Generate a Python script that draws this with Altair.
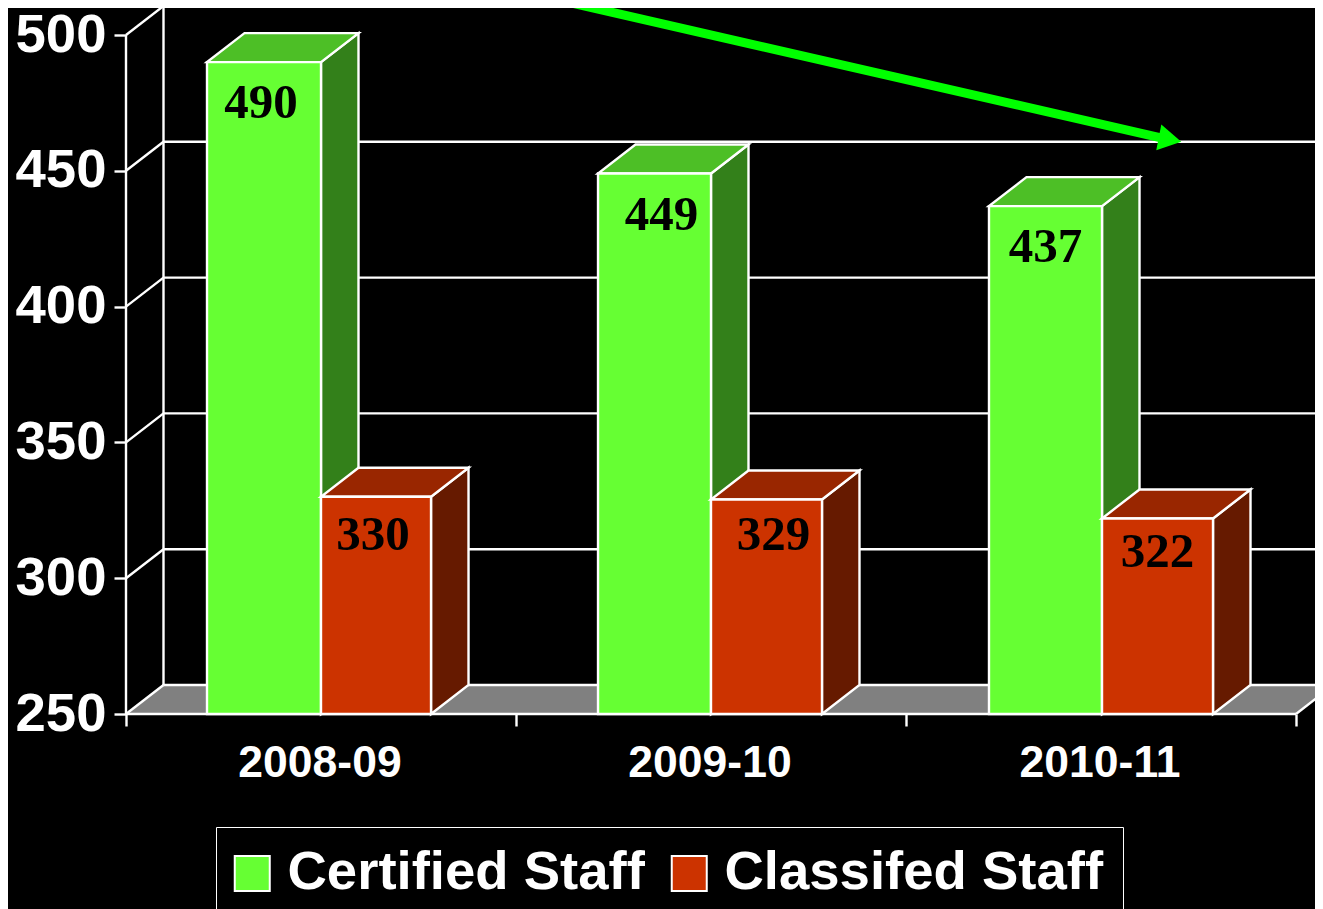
import altair as alt
import pandas as pd

years = ["2008-09", "2009-10", "2010-11"]
certified = [490, 449, 437]
classified = [330, 329, 322]
y_ticks = [250, 300, 350, 400, 450, 500]
x_ticks = [0, 1, 2, 3]
series_names = ["Certified Staff", "Classifed Staff"]
arrow_x = [1.108, 2.651]
arrow_y = [512.9, 462.2]
head_x = [2.677]
head_y = [461.5]
cert_left = [0.2077, 1.2103, 2.2128]
cert_right = [0.5, 1.5, 2.5026]
class_right = [0.7821, 1.7846, 2.7872]
label_shift_x = [[-3, 7, 0], [-3, 7, 0]]
label_shift_y = [[41, 41, 41], [38, 36, 34]]

PX_X = 390
PX_Y = 2.716
PLOT_W = 1189
PLOT_H = 706
DX = 37.5 / PX_X
DY = 29 / PX_Y
BASE = 250
XMAX = PLOT_W / PX_X
YMAX = 250 + PLOT_H / PX_Y
WHITE = "#ffffff"
LW = 2.4
x_scale = alt.Scale(domain=[0, XMAX], nice=False, zero=False)
y_scale = alt.Scale(domain=[BASE, YMAX], nice=False, zero=False)

x_axis = alt.Axis(
    values=x_ticks, grid=False, domain=False, ticks=True, tickColor=WHITE,
    tickWidth=LW, tickSize=12, labelColor=WHITE, labelFont="Liberation Sans",
    labelFontWeight="bold", labelFontSize=44.5, labelOffset=193.5, labelPadding=15,
    labelBaseline="top", labelFlush=False, labelOverlap=False,
    labelExpr="[" + ",".join(repr(y) for y in years) + ",''][datum.value]")
y_axis = alt.Axis(
    values=y_ticks, grid=False, domain=False, ticks=True, tickColor=WHITE,
    tickWidth=LW, tickSize=12, labelColor=WHITE, labelFont="Liberation Sans",
    labelFontWeight="bold", labelFontSize=54.5, labelPadding=8, labelOverlap=False)


def X(field="x"):
    return alt.X(f"{field}:Q", scale=x_scale, axis=x_axis, title=None)


def Y(field="y"):
    return alt.Y(f"{field}:Q", scale=y_scale, axis=y_axis, title=None)


X2 = alt.X2("x2:Q")
Y2 = alt.Y2("y2:Q")

# ---- tables -------------------------------------------------------------
floor_df = pd.DataFrame([
    {"y": BASE, "x": 0, "x2": 3},
    {"y": BASE + DY, "x": DX, "x2": 3 + DX},
])
grid_df = pd.DataFrame([{"y": v + DY, "x": DX, "x2": XMAX} for v in y_ticks])
diag_df = pd.DataFrame([{"x": 0, "x2": DX, "y": v, "y2": v + DY} for v in y_ticks])
wall_df = pd.DataFrame([
    {"x": 0, "x2": 0, "y": 250, "y2": 500},
    {"x": DX, "x2": DX, "y": 250 + DY, "y2": 500 + DY},
    {"x": 3, "x2": 3 + DX, "y": 250, "y2": 250 + DY},
])

bars = []
for i in range(3):
    bars.append(dict(s=0, i=i, l=cert_left[i], r=cert_right[i], v=certified[i]))
    bars.append(dict(s=1, i=i, l=cert_right[i], r=class_right[i], v=classified[i]))

side_rows, top_rows, front_rows, text_rows = [], [], [], []
for b in bars:
    k = f"{b['s']}-{b['i']}"
    side_rows += [
        dict(k=k, s=b["s"], x=b["r"], y=b["v"], y2=BASE),
        dict(k=k, s=b["s"], x=b["r"] + DX, y=b["v"] + DY, y2=BASE + DY),
    ]
    top_rows += [
        dict(k=k, s=b["s"], y=b["v"], x=b["l"], x2=b["r"]),
        dict(k=k, s=b["s"], y=b["v"] + DY, x=b["l"] + DX, x2=b["r"] + DX),
    ]
    front_rows.append(dict(k=k, name=series_names[b["s"]], s=b["s"],
                           x=b["l"], x2=b["r"], y=b["v"], y2=BASE))
    text_rows.append(dict(
        x=(b["l"] + b["r"]) / 2 + label_shift_x[b["s"]][b["i"]] / PX_X,
        y=b["v"] - label_shift_y[b["s"]][b["i"]] / PX_Y,
        t=str(b["v"])))
side_df, top_df, front_df, text_df = map(pd.DataFrame, (side_rows, top_rows, front_rows, text_rows))

# ---- layers -------------------------------------------------------------
floor_l = alt.Chart(floor_df).mark_area(orient="horizontal", fill="#808080").encode(x=X(), x2=X2, y=Y())
grid_l = alt.Chart(grid_df).mark_rule(color=WHITE, strokeWidth=LW).encode(x=X(), x2=X2, y=Y())
diag_l = alt.Chart(diag_df).mark_rule(color=WHITE, strokeWidth=LW).encode(x=X(), x2=X2, y=Y(), y2=Y2)
wall_l = alt.Chart(wall_df).mark_rule(color=WHITE, strokeWidth=LW).encode(x=X(), x2=X2, y=Y(), y2=Y2)
front_base = alt.Chart(pd.DataFrame({"x": [0], "x2": [3], "y": [250]})).mark_rule(
    color=WHITE, strokeWidth=LW).encode(x=X(), x2=X2, y=Y())

layers = [floor_l, grid_l, diag_l, wall_l, front_base]
for s, (side_c, top_c) in enumerate([("#33801a", "#4dbf26"), ("#661a00", "#992600")]):
    layers.append(alt.Chart(side_df[side_df.s == s]).mark_area(
        fill=side_c, stroke=WHITE, strokeWidth=LW).encode(x=X(), y=Y(), y2=Y2, detail="k:N"))
    layers.append(alt.Chart(top_df[top_df.s == s]).mark_area(
        orient="horizontal", fill=top_c, stroke=WHITE, strokeWidth=LW).encode(x=X(), x2=X2, y=Y(), detail="k:N"))
    layers.append(alt.Chart(front_df[front_df.s == s]).mark_rect(
        stroke=WHITE, strokeWidth=LW).encode(
        x=X(), x2=X2, y=Y(), y2=Y2,
        color=alt.Color("name:N", scale=alt.Scale(domain=series_names, range=["#66ff33", "#cc3300"]),
                        legend=alt.Legend(
                            orient="none", legendX=90, legendY=819, direction="horizontal", columns=2,
                            title=None, padding=19, strokeColor=WHITE, fillColor="#000000",
                            symbolType="square", symbolSize=1225, symbolStrokeColor=WHITE,
                            symbolStrokeWidth=2, symbolOpacity=1, symbolOffset=-10, labelColor=WHITE,
                            labelFont="Liberation Sans", labelFontWeight="bold", labelFontSize=54.5,
                            labelLimit=600, labelOffset=8, columnPadding=22))))

text_l = alt.Chart(text_df).mark_text(
    font="Liberation Serif", fontWeight="bold", fontSize=49, color="#000000", baseline="middle"
).encode(x=X(), y=Y(), text="t:N")
layers.append(text_l)

arrow_df = pd.DataFrame({"x": arrow_x, "y": arrow_y})
head_df = pd.DataFrame({"x": head_x, "y": head_y})
layers.append(alt.Chart(arrow_df).mark_line(color="#00ff00", strokeWidth=9).encode(x=X(), y=Y()))
layers.append(alt.Chart(head_df).mark_point(
    shape="triangle-up", filled=True, color="#00ff00", opacity=1, size=700, angle=101).encode(
    x=X(), y=Y()))

chart = alt.layer(*layers).properties(
    width=PLOT_W, height=PLOT_H, background="#000000",
    padding={"left": 118, "top": 0, "right": 0, "bottom": 195},
    autosize=alt.AutoSizeParams(type="none"),
).configure_view(stroke=None)

chart.save("out.html", embed_options={"renderer": "svg", "actions": False})
